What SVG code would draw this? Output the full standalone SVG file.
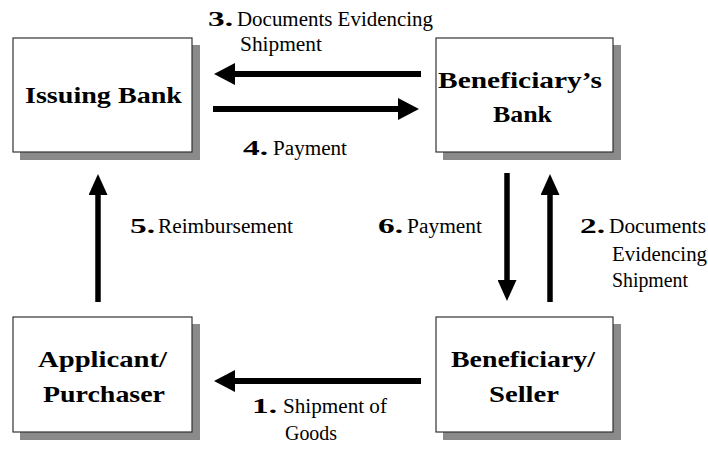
<svg xmlns="http://www.w3.org/2000/svg" width="708" height="458" viewBox="0 0 708 458" font-family="'Liberation Serif', 'DejaVu Serif', serif">
<style>
.shadow{fill:#8a8a8a;stroke:none}
.box{fill:#ffffff;stroke:#333333;stroke-width:1.2}
.title{font-family:'Liberation Serif','DejaVu Serif',serif;font-weight:bold;font-size:24px;fill:#000}
.num{font-family:'Liberation Serif','DejaVu Serif',serif;font-weight:bold;font-size:22px;fill:#000}
.lbl{font-family:'Liberation Serif','DejaVu Serif',serif;font-size:20px;fill:#000}
.conn{stroke:#000;stroke-width:6;fill:none;marker-end:url(#ah)}
.connv{stroke:#000;stroke-width:5.5;fill:none;marker-end:url(#ahv)}
</style>
<defs>
<marker id="ah" viewBox="0 0 21 22" refX="1" refY="11" markerWidth="21" markerHeight="22" markerUnits="userSpaceOnUse" orient="auto">
<path d="M0,0 L21,11 L0,22 z" fill="#000"/>
</marker>
<marker id="ahv" viewBox="0 0 21 19" refX="1" refY="9.5" markerWidth="21" markerHeight="19" markerUnits="userSpaceOnUse" orient="auto">
<path d="M0,0 L21,9.5 L0,19 z" fill="#000"/>
</marker>
</defs>
<rect width="708" height="458" fill="#ffffff"/>

<g id="issuing-bank">
<rect class="shadow" x="20" y="45" width="180" height="115"/>
<rect class="box" x="13" y="38" width="179" height="114"/>
<text class="title" x="25" y="103" textLength="157" lengthAdjust="spacingAndGlyphs">Issuing Bank</text>
</g>
<g id="beneficiary-bank">
<rect class="shadow" x="443" y="45" width="178" height="115"/>
<rect class="box" x="436" y="38" width="177" height="114"/>
<text class="title" x="438" y="88" textLength="164" lengthAdjust="spacingAndGlyphs">Beneficiary’s</text>
<text class="title" x="493" y="122" textLength="59" lengthAdjust="spacingAndGlyphs">Bank</text>
</g>
<g id="applicant">
<rect class="shadow" x="20" y="324" width="180" height="116"/>
<rect class="box" x="13" y="317" width="179" height="115"/>
<text class="title" x="38" y="367" textLength="129" lengthAdjust="spacingAndGlyphs">Applicant/</text>
<text class="title" x="43" y="402" textLength="122" lengthAdjust="spacingAndGlyphs">Purchaser</text>
</g>
<g id="beneficiary-seller">
<rect class="shadow" x="443" y="324" width="178" height="116"/>
<rect class="box" x="436" y="317" width="177" height="115"/>
<text class="title" x="451" y="367" textLength="144" lengthAdjust="spacingAndGlyphs">Beneficiary/</text>
<text class="title" x="489" y="402" textLength="70" lengthAdjust="spacingAndGlyphs">Seller</text>
</g>

<g id="connectors">
<line class="conn" x1="421" y1="74" x2="234" y2="74"/>
<line class="conn" x1="213" y1="109" x2="399" y2="109"/>
<line class="conn" x1="421" y1="381" x2="234" y2="381"/>
<line class="connv" x1="98" y1="302" x2="98" y2="194"/>
<line class="connv" x1="507" y1="173" x2="507" y2="281"/>
<line class="connv" x1="550" y1="302" x2="550" y2="194"/>
</g>

<g id="labels">
<text class="num" x="208" y="26" textLength="25" lengthAdjust="spacingAndGlyphs">3.</text>
<text class="lbl" x="237" y="26" textLength="196" lengthAdjust="spacingAndGlyphs">Documents Evidencing</text>
<text class="lbl" x="240" y="51" textLength="82" lengthAdjust="spacingAndGlyphs">Shipment</text>
<text class="num" x="243" y="155" textLength="25" lengthAdjust="spacingAndGlyphs">4.</text>
<text class="lbl" x="273" y="155" textLength="74" lengthAdjust="spacingAndGlyphs">Payment</text>
<text class="num" x="130" y="233" textLength="25" lengthAdjust="spacingAndGlyphs">5.</text>
<text class="lbl" x="158" y="233" textLength="135" lengthAdjust="spacingAndGlyphs">Reimbursement</text>
<text class="num" x="378" y="233" textLength="25" lengthAdjust="spacingAndGlyphs">6.</text>
<text class="lbl" x="407" y="233" textLength="75" lengthAdjust="spacingAndGlyphs">Payment</text>
<text class="num" x="580" y="233" textLength="25" lengthAdjust="spacingAndGlyphs">2.</text>
<text class="lbl" x="609" y="233" textLength="97" lengthAdjust="spacingAndGlyphs">Documents</text>
<text class="lbl" x="612" y="261" textLength="95" lengthAdjust="spacingAndGlyphs">Evidencing</text>
<text class="lbl" x="612" y="287" textLength="76" lengthAdjust="spacingAndGlyphs">Shipment</text>
<text class="num" x="252" y="413" textLength="25" lengthAdjust="spacingAndGlyphs">1.</text>
<text class="lbl" x="283" y="413" textLength="104" lengthAdjust="spacingAndGlyphs">Shipment of</text>
<text class="lbl" x="285" y="440" textLength="52" lengthAdjust="spacingAndGlyphs">Goods</text>
</g>
</svg>
